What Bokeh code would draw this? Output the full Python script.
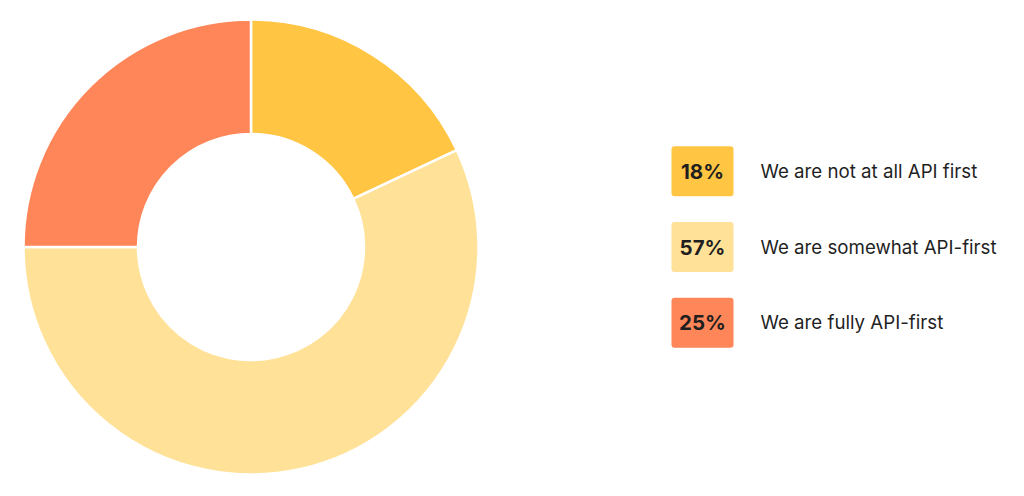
import numpy as np
from bokeh.plotting import figure
from bokeh.models import Range1d, ColumnDataSource
from bokeh.core.properties import value
from bokeh.embed import file_html
from bokeh.resources import INLINE

labels = ["We are not at all API first", "We are somewhat API-first", "We are fully API-first"]
shares = [18, 57, 25]
colors = ["#FFC543", "#FFE197", "#FF8659"]

W, H = 1008, 480
p = figure(width=W, height=H, output_backend="svg", toolbar_location=None,
           x_range=Range1d(0, W), y_range=Range1d(0, H), min_border=0)
p.axis.visible = False
p.grid.visible = False
p.outline_line_color = None

# donut
frac = np.array(shares, dtype=float) / sum(shares)
cum = np.concatenate([[0], np.cumsum(frac)])
start = np.pi / 2 - cum[:-1] * 2 * np.pi
end = np.pi / 2 - cum[1:] * 2 * np.pi
src = ColumnDataSource(dict(start=start, end=end, color=colors))
p.annular_wedge(x=250.5, y=H - 246.5, inner_radius=113, outer_radius=227.5,
                inner_radius_units="screen", outer_radius_units="screen",
                start_angle="start", end_angle="end", direction="clock",
                fill_color="color", line_color="white", line_width=2.5, source=src)

# legend
ys = [H - 170.8 - i * 75.7 for i in range(len(labels))]
bsrc = ColumnDataSource(dict(y=ys, color=colors, pct=[f"{s}%" for s in shares], lab=labels))
p.rect(x=702, y="y", width=62, height=50, width_units="screen", height_units="screen",
       fill_color="color", line_color=None, border_radius=3, source=bsrc)
p.text(x=702, y="y", text="pct", text_align="center", text_baseline="middle",
       text_font=value("Inter"), text_font_style="bold", text_font_size="20.5px",
       text_color="#1f1f1f", source=bsrc)
p.text(x=760, y="y", text="lab", text_align="left", text_baseline="middle",
       text_font=value("Inter"), text_font_size="18.7px",
       text_color="#1f1f1f", source=bsrc)

open("out.html", "w").write(file_html(p, INLINE))
